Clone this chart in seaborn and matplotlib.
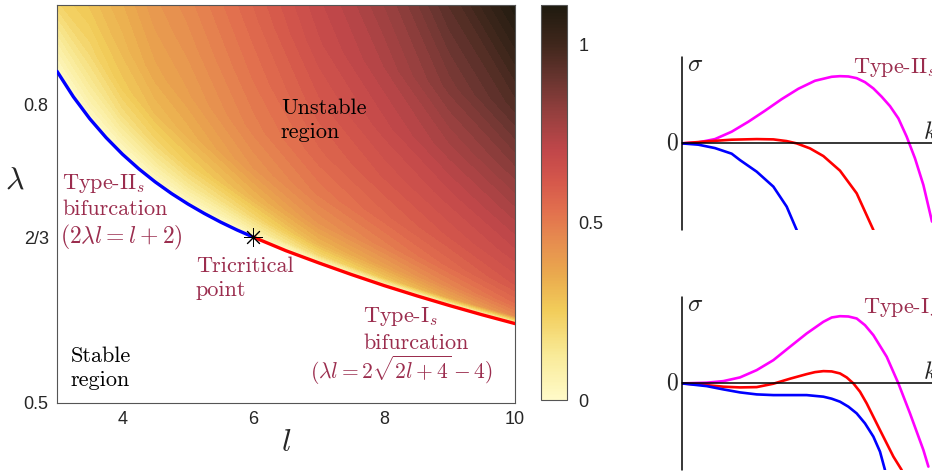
import numpy as np
import seaborn as sns
import matplotlib.pyplot as plt
from matplotlib.colors import LinearSegmentedColormap, Normalize
from matplotlib.cm import ScalarMappable

# colour field: columns at l, rows at a height d above the
# stability boundary (lam_edge) of that column
field_l = [3, 3.5, 4, 4.5, 5, 6, 7, 8, 9, 10]
lam_edge = [0.8333, 0.7857, 0.75, 0.7222, 0.70, 0.6667, 0.6408, 0.6180, 0.5979, 0.5798]
field_d = [0, 0.008, 0.02, 0.04, 0.07, 0.11, 0.16, 0.22, 0.32]
field = [
    [0.00, 0.00, 0.00, 0.00, 0.00, 0.00, 0.00, 0.00, 0.00, 0.00],
    [0.03, 0.035, 0.04, 0.05, 0.06, 0.10, 0.20, 0.27, 0.36, 0.45],
    [0.07, 0.08, 0.10, 0.12, 0.14, 0.20, 0.32, 0.38, 0.46, 0.54],
    [0.13, 0.14, 0.18, 0.21, 0.24, 0.32, 0.42, 0.48, 0.55, 0.62],
    [0.22, 0.21, 0.26, 0.30, 0.33, 0.42, 0.50, 0.56, 0.62, 0.68],
    [0.28, 0.27, 0.31, 0.36, 0.39, 0.48, 0.56, 0.62, 0.68, 0.75],
    [0.33, 0.32, 0.35, 0.40, 0.43, 0.52, 0.61, 0.68, 0.76, 0.84],
    [0.38, 0.37, 0.39, 0.44, 0.47, 0.56, 0.66, 0.74, 0.85, 0.95],
    [0.45, 0.45, 0.46, 0.50, 0.53, 0.62, 0.72, 0.82, 0.96, 1.10],
]

# stability boundaries
l_type2 = [3, 3.25, 3.5, 3.75, 4, 4.25, 4.5, 4.75, 5, 5.25, 5.5, 5.75, 6]
lam_type2 = [0.8333, 0.8077, 0.7857, 0.7667, 0.75, 0.7353, 0.7222, 0.7105,
             0.7, 0.6905, 0.6818, 0.6739, 0.6667]
l_type1 = [6, 6.5, 7, 7.5, 8, 8.5, 9, 9.5, 10]
lam_type1 = [0.6667, 0.6530, 0.6408, 0.6291, 0.6180, 0.6077, 0.5979, 0.5886, 0.5798]

# dispersion sketches, upper panel (Type-II_s)
k_up_m = [0, 0.167, 0.333, 0.5, 0.667, 0.833, 1.0, 1.167, 1.333, 1.5, 1.583, 1.667,
          1.75, 1.833, 1.917, 2.0, 2.083, 2.167, 2.25, 2.333, 2.417, 2.503]
s_up_m = [0, 0.010, 0.043, 0.117, 0.217, 0.327, 0.443, 0.547, 0.627, 0.667, 0.673,
          0.67, 0.653, 0.613, 0.55, 0.467, 0.373, 0.25, 0.067, -0.15, -0.417, -0.783]
k_up_r = [0, 0.25, 0.5, 0.75, 0.917, 1.05, 1.15, 1.283, 1.417, 1.583, 1.75, 1.917]
s_up_r = [0, 0.02, 0.037, 0.043, 0.04, 0.023, 0, -0.05, -0.127, -0.273, -0.5, -0.867]
k_up_b = [0, 0.167, 0.333, 0.5, 0.583, 0.75, 0.917, 1.05, 1.15]
s_up_b = [0, -0.013, -0.047, -0.103, -0.167, -0.283, -0.433, -0.633, -0.867]

# lower panel (Type-I_s)
k_lo_m = [0, 0.25, 0.417, 0.583, 0.75, 0.917, 1.083, 1.25, 1.417, 1.5, 1.583, 1.667,
          1.75, 1.833, 1.917, 2.05, 2.167, 2.283, 2.417, 2.467]
s_lo_m = [0, 0.007, 0.023, 0.06, 0.133, 0.233, 0.367, 0.5, 0.617, 0.66, 0.673, 0.67,
          0.65, 0.583, 0.483, 0.267, 0, -0.3, -0.667, -0.833]
k_lo_r = [0, 0.25, 0.417, 0.583, 0.75, 0.917, 1.083, 1.25, 1.333, 1.417, 1.5, 1.583,
          1.65, 1.717, 1.783, 1.85, 1.983, 2.117, 2.2]
s_lo_r = [0, -0.017, -0.033, -0.04, -0.037, -0.003, 0.047, 0.093, 0.113, 0.123, 0.12,
          0.1, 0.06, 0, -0.083, -0.2, -0.467, -0.733, -0.867]
k_lo_b = [0, 0.25, 0.417, 0.583, 0.75, 0.917, 1.083, 1.25, 1.417, 1.5, 1.583, 1.667,
          1.75, 1.833, 1.917, 1.983, 2.033]
s_lo_b = [0, -0.027, -0.06, -0.09, -0.11, -0.117, -0.117, -0.117, -0.133, -0.153,
          -0.183, -0.233, -0.3, -0.4, -0.533, -0.683, -0.867]

cbar_ticks = [0, 0.5, 1]
y_ticks = [0.5, 2 / 3, 0.8]
y_ticklabels = ['0.5', '2/3', '0.8']
x_ticks = [4, 6, 8, 10]

sns.set_theme(style='white')
plt.rcParams['font.family'] = ['Liberation Sans', 'DejaVu Sans']
plt.rcParams['mathtext.fontset'] = 'cm'

maroon = '#9B2D4E'
vmax = 1.11
anchors = [(0.0, '#FFFAC8'), (0.12, '#F9EB9A'), (0.25, '#F2CD5A'), (0.35, '#EAAA4E'),
           (0.45, '#E68B4F'), (0.53, '#E2704E'), (0.62, '#D4564B'), (0.70, '#C1474A'),
           (0.80, '#98403F'), (0.90, '#6A3530'), (1.0, '#40271C'), (1.11, '#1F1A0F')]
cmap = LinearSegmentedColormap.from_list('growth', [(v / vmax, c) for v, c in anchors])
norm = Normalize(0, vmax)

fig = plt.figure(figsize=(9.32, 4.71), dpi=100)
ax = fig.add_axes([0.0612, 0.1444, 0.4914, 0.845])

L, D = np.meshgrid(field_l, field_d)
LAM = np.array(lam_edge)[None, :] + D
ax.contourf(L, LAM, np.array(field), levels=np.linspace(0, vmax, 46), cmap=cmap, norm=norm)

sns.lineplot(x=l_type2, y=lam_type2, ax=ax, color='#0000FF', lw=2.4, sort=False, zorder=3)
sns.lineplot(x=l_type1, y=lam_type1, ax=ax, color='#FF0000', lw=2.4, sort=False, zorder=3)
ax.plot([6], [2 / 3], marker=(8, 2, 0), ms=13, mew=0.7, color='black', zorder=4)

ax.set_xlim(3, 10)
ax.set_ylim(0.5, 0.9)
ax.set_xticks(x_ticks)
ax.set_yticks(y_ticks)
ax.set_yticklabels(y_ticklabels)
ax.tick_params(direction='in', top=True, right=True, length=4, width=0.6,
               labelsize=13, colors='#262626', pad=6)
for s in ax.spines.values():
    s.set_color('#555555')
    s.set_linewidth(0.8)
ax.set_xlabel('$l$', fontsize=23, labelpad=0)
ax.set_ylabel(r'$\lambda$', fontsize=23, rotation=0, va='center')
ax.yaxis.set_label_coords(-0.092, 0.56)

tk = dict(fontfamily='cmr10', fontsize=16, linespacing=1.3, zorder=5)
ax.text(6.42, 0.806, 'Unstable\nregion', color='black', va='top', **tk)
ax.text(3.08, 0.732, 'Type-II$_s$\nbifurcation', color=maroon, va='top', **tk)
ax.text(3.05, 0.660, r'$(2\lambda l = l+2)$', color=maroon, fontsize=17, zorder=5)
ax.text(5.12, 0.647, 'Tricritical\npoint', color=maroon, va='top', **tk)
ax.text(7.68, 0.598, 'Type-I$_s$\nbifurcation', color=maroon, va='top', **tk)
ax.text(6.87, 0.524, r'$(\lambda l = 2\sqrt{2l+4}-4)$', color=maroon, fontsize=15.5, zorder=5)
ax.text(3.21, 0.557, 'Stable\nregion', color='black', va='top', **tk)

# colour bar
cax = fig.add_axes([0.5805, 0.1507, 0.0279, 0.8386])
cb = fig.colorbar(ScalarMappable(norm=norm, cmap=cmap), cax=cax, ticks=cbar_ticks)
cb.ax.set_yticklabels(['0', '0.5', '1'])
cb.ax.tick_params(direction='in', length=4, width=0.6, labelsize=13, colors='#262626', pad=8)
cb.outline.set_edgecolor('#555555')
cb.outline.set_linewidth(0.8)


# dispersion sketches
def sketch(rect, curves, label, lab_k):
    a = fig.add_axes(rect)
    for k, s, c in curves:
        sns.lineplot(x=k, y=s, ax=a, color=c, lw=1.9, sort=False)
    a.set_xlim(0, 2.503)
    a.set_ylim(-0.867, 0.865)
    a.axis('off')
    a.plot([0, 0], [-0.867, 0.865], color='black', lw=1.1, clip_on=False)
    a.plot([0, 2.6], [0, 0], color='black', lw=1.1, clip_on=False)
    a.text(-0.04, 0, '0', fontfamily='cmr10', fontsize=17, ha='right', va='center')
    a.text(0.05, 0.72, r'$\sigma$', fontsize=18)
    a.text(2.41, 0.04, '$k$', fontsize=18)
    a.text(lab_k, 0.70, label, fontfamily='cmr10', fontsize=16, color=maroon)
    return a


sketch([0.7314, 0.5117, 0.2686, 0.3673],
       [(k_up_m, s_up_m, '#FF00FF'), (k_up_r, s_up_r, '#FF0000'), (k_up_b, s_up_b, '#0000FF')],
       'Type-II$_s$', 1.71)
sketch([0.7314, 0.0021, 0.2686, 0.3673],
       [(k_lo_m, s_lo_m, '#FF00FF'), (k_lo_r, s_lo_r, '#FF0000'), (k_lo_b, s_lo_b, '#0000FF')],
       'Type-I$_s$', 1.81)

fig.savefig('out.png', dpi=100)
